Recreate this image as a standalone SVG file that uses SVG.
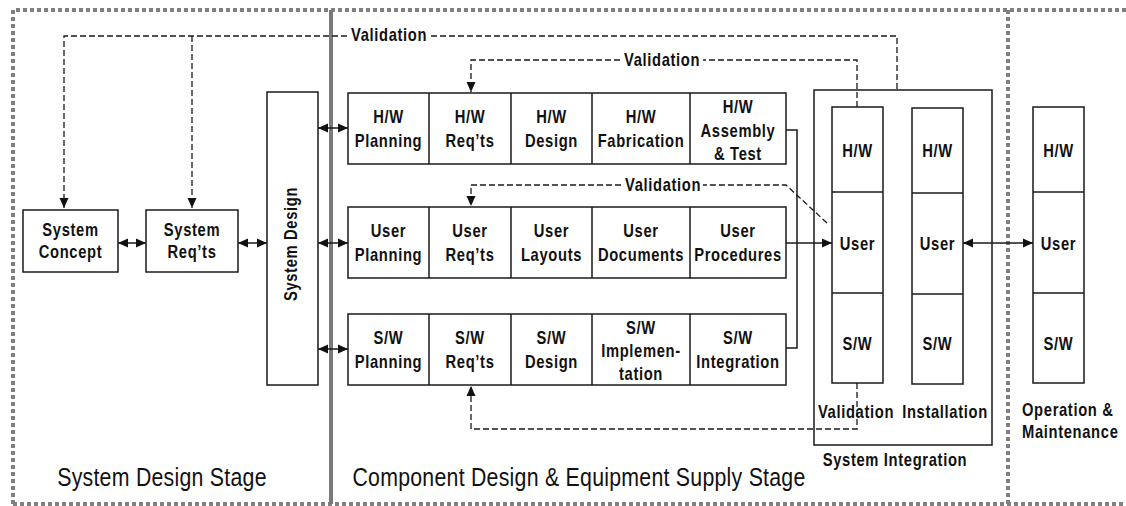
<svg xmlns="http://www.w3.org/2000/svg" width="1126" height="506" viewBox="0 0 1126 506">
<defs>
<style>
.bx{fill:#fff;stroke:#1a1a1a;stroke-width:1.5}
.ln{fill:none;stroke:#1a1a1a;stroke-width:1.5}
.dl{fill:none;stroke:#1a1a1a;stroke-width:1.3;stroke-dasharray:6 3}
.dot{fill:none;stroke:#808080;stroke-width:4;stroke-dasharray:4 3}
.sep{fill:none;stroke:#7a7a7a;stroke-width:4}
text{font-family:"Liberation Sans",Arial,sans-serif;fill:#111}
.t{font-size:18px;font-weight:bold;text-anchor:middle;letter-spacing:0.8px;transform-box:fill-box;transform-origin:center;transform:scaleX(0.82)}
.tl{font-size:18px;font-weight:bold;letter-spacing:0.8px;transform-box:fill-box;transform-origin:left center;transform:scaleX(0.82)}
.tr{font-size:18px;font-weight:bold;text-anchor:middle;letter-spacing:0.8px}
.st{font-size:26px;text-anchor:middle;letter-spacing:0.3px;transform-box:fill-box;transform-origin:center;transform:scaleX(0.82)}
</style>
<marker id="ah" viewBox="0 0 10 10" refX="10" refY="5" markerWidth="10" markerHeight="10" markerUnits="userSpaceOnUse" orient="auto-start-reverse">
<path d="M0,0.5 L10,5 L0,9.5 Z" fill="#111"/>
</marker>
</defs>
<rect width="1126" height="506" fill="#fff"/>

<g id="frame">
<path class="dot" d="M13,504 V10 H1126"/>
<path class="dot" d="M13,504 H1126"/>
<path class="dot" d="M1008,10 V504"/>
<path class="sep" d="M331,10 V504"/>
</g>

<g id="connectors">
<path class="dl" d="M347,36 H64 V208" marker-end="url(#ah)"/>
<path class="dl" d="M192,36 V208" marker-end="url(#ah)"/>
<path class="dl" d="M431,36 H897 V90"/>
<path class="dl" d="M857,107 V60 H703"/>
<path class="dl" d="M620,60 H471 V92" marker-end="url(#ah)"/>
<path class="dl" d="M827,223 L786,185 H703"/>
<path class="dl" d="M621,185 H471 V206" marker-end="url(#ah)"/>
<path class="dl" d="M857,383 V429 H471 V386" marker-end="url(#ah)"/>
<path class="ln" d="M118,243 H146" marker-start="url(#ah)" marker-end="url(#ah)"/>
<path class="ln" d="M238,243 H267" marker-start="url(#ah)" marker-end="url(#ah)"/>
<path class="ln" d="M318,128 H348" marker-start="url(#ah)" marker-end="url(#ah)"/>
<path class="ln" d="M318,243 H348" marker-start="url(#ah)" marker-end="url(#ah)"/>
<path class="ln" d="M318,349 H348" marker-start="url(#ah)" marker-end="url(#ah)"/>
<path class="ln" d="M786,130 H797 V348 H786"/>
<path class="ln" d="M786,243 H832" marker-end="url(#ah)"/>
<path class="ln" d="M963,243 H1033" marker-start="url(#ah)" marker-end="url(#ah)"/>
</g>

<g id="validation-labels">
<text class="tl" x="351" y="41">Validation</text>
<text class="tl" x="624" y="66">Validation</text>
<text class="tl" x="625" y="191">Validation</text>
</g>

<g id="system-concept">
<rect class="bx" x="23" y="210" width="95" height="62"/>
<text class="t" x="70.5" y="236">System</text>
<text class="t" x="70.5" y="258">Concept</text>
</g>
<g id="system-reqts">
<rect class="bx" x="146" y="210" width="92" height="62"/>
<text class="t" x="192" y="236">System</text>
<text class="t" x="192" y="258">Req’ts</text>
</g>
<g id="system-design">
<rect class="bx" x="267" y="92" width="51" height="293"/>
<text class="tr" transform="translate(297,244) rotate(-90) scale(0.82,1)">System Design</text>
</g>

<g id="hw-row">
<rect class="bx" x="348" y="93" width="438" height="71"/>
<path class="ln" d="M429,93 V164 M511,93 V164 M592,93 V164 M690,93 V164"/>
<text class="t" x="388.5" y="123">H/W</text><text class="t" x="388.5" y="147">Planning</text>
<text class="t" x="470" y="123">H/W</text><text class="t" x="470" y="147">Req’ts</text>
<text class="t" x="551.5" y="123">H/W</text><text class="t" x="551.5" y="147">Design</text>
<text class="t" x="641" y="123">H/W</text><text class="t" x="641" y="147">Fabrication</text>
<text class="t" x="738" y="113">H/W</text><text class="t" x="738" y="137">Assembly</text><text class="t" x="738" y="160">&amp; Test</text>
</g>

<g id="user-row">
<rect class="bx" x="348" y="207" width="438" height="71"/>
<path class="ln" d="M429,207 V278 M511,207 V278 M592,207 V278 M690,207 V278"/>
<text class="t" x="388.5" y="237">User</text><text class="t" x="388.5" y="261">Planning</text>
<text class="t" x="470" y="237">User</text><text class="t" x="470" y="261">Req’ts</text>
<text class="t" x="551.5" y="237">User</text><text class="t" x="551.5" y="261">Layouts</text>
<text class="t" x="641" y="237">User</text><text class="t" x="641" y="261">Documents</text>
<text class="t" x="738" y="237">User</text><text class="t" x="738" y="261">Procedures</text>
</g>

<g id="sw-row">
<rect class="bx" x="348" y="314" width="438" height="71"/>
<path class="ln" d="M429,314 V385 M511,314 V385 M592,314 V385 M690,314 V385"/>
<text class="t" x="388.5" y="344">S/W</text><text class="t" x="388.5" y="368">Planning</text>
<text class="t" x="470" y="344">S/W</text><text class="t" x="470" y="368">Req’ts</text>
<text class="t" x="551.5" y="344">S/W</text><text class="t" x="551.5" y="368">Design</text>
<text class="t" x="641" y="334">S/W</text><text class="t" x="641" y="357">Implemen-</text><text class="t" x="641" y="380">tation</text>
<text class="t" x="738" y="344">S/W</text><text class="t" x="738" y="368">Integration</text>
</g>

<g id="system-integration">
<rect class="ln" x="814" y="90" width="178" height="355"/>
<text class="t" x="895" y="466">System Integration</text>
</g>

<g id="validation-column">
<rect class="bx" x="832" y="107" width="51" height="276"/>
<path class="ln" d="M832,192 H883 M832,293 H883"/>
<text class="t" x="857.5" y="157">H/W</text>
<text class="t" x="857.5" y="250">User</text>
<text class="t" x="857.5" y="350">S/W</text>
<text class="t" x="856" y="418">Validation</text>
</g>

<g id="installation-column">
<rect class="bx" x="912" y="108" width="51" height="276"/>
<path class="ln" d="M912,193 H963 M912,294 H963"/>
<text class="t" x="937.5" y="157">H/W</text>
<text class="t" x="937.5" y="250">User</text>
<text class="t" x="937.5" y="350">S/W</text>
<text class="t" x="945" y="418">Installation</text>
</g>

<g id="om-column">
<rect class="bx" x="1033" y="107" width="51" height="276"/>
<path class="ln" d="M1033,192 H1084 M1033,293 H1084"/>
<text class="t" x="1058.5" y="157">H/W</text>
<text class="t" x="1058.5" y="250">User</text>
<text class="t" x="1058.5" y="350">S/W</text>
<text class="tl" x="1022" y="416">Operation &amp;</text>
<text class="tl" x="1022" y="438">Maintenance</text>
</g>

<g id="stage-labels">
<text class="st" x="162" y="486">System Design Stage</text>
<text class="st" x="579" y="486">Component Design &amp; Equipment Supply Stage</text>
</g>
</svg>
